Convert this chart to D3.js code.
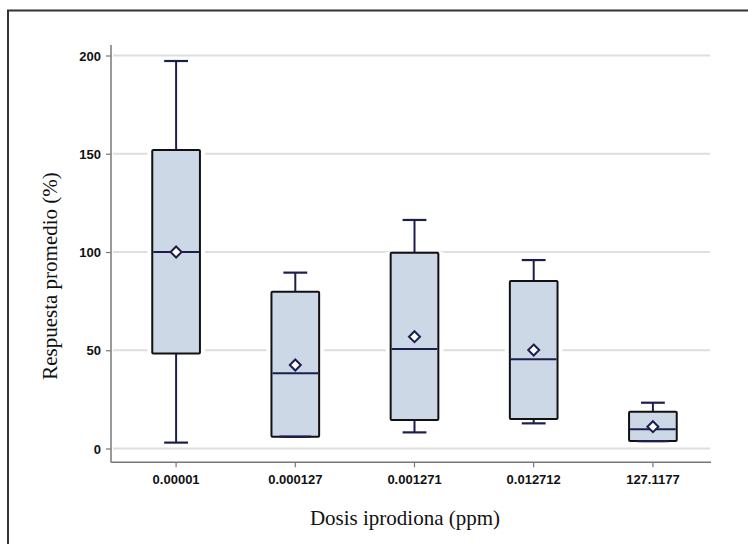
<!DOCTYPE html>
<html>
<head>
<meta charset="utf-8">
<script src="https://cdn.jsdelivr.net/npm/d3@7"></script>
<style>
  html, body { margin: 0; padding: 0; background: #fff; }
  svg { display: block; }
</style>
</head>
<body>
<svg id="chart" width="748" height="544"></svg>
<script>
const categories = ["0.00001", "0.000127", "0.001271", "0.012712", "127.1177"];
const whiskerLow  = [3.0, 6.0, 8.2, 12.8, 3.8];
const q1          = [48.4, 6.0, 14.5, 15.0, 3.8];
const median      = [100.0, 38.3, 50.6, 45.4, 9.8];
const mean        = [100.0, 42.5, 56.9, 50.1, 11.1];
const q3          = [151.9, 79.8, 99.6, 85.2, 18.7];
const whiskerHigh = [197.2, 89.5, 116.3, 95.9, 23.3];
const yTicks = [0, 50, 100, 150, 200];
const xTitle = "Dosis iprodiona (ppm)";
const yTitle = "Respuesta promedio (%)";

const data = categories.map((c, i) => ({
  cat: c, lo: whiskerLow[i], q1: q1[i], med: median[i], mean: mean[i], q3: q3[i], hi: whiskerHigh[i]
}));

const svg = d3.select("#chart");
const navy = "#1c1f4e";
const boxFill = "#cdd8e7";

// outer frame (extends beyond the picture on the right/bottom)
svg.append("rect").attr("x", 8).attr("y", 10.5).attr("width", 800).attr("height", 600)
  .attr("fill", "none").attr("stroke", "#333").attr("stroke-width", 2);

const x = d3.scaleBand().domain(categories).range([116.5, 712.5]).paddingInner(0.6).paddingOuter(0.3);
const y = d3.scaleLinear().domain([0, 200]).range([448.5, 55.5]);
const cx = d => x(d) + x.bandwidth() / 2;

const plotLeft = 111, plotRight = 711;
const xAxisY = y(-7.0);

// gridlines
svg.append("g").selectAll("line").data(yTicks).join("line")
  .attr("x1", plotLeft + 2).attr("x2", 710)
  .attr("y1", d => y(d)).attr("y2", d => y(d))
  .attr("stroke", "#dedede").attr("stroke-width", 2);

// y axis
const yAxis = svg.append("g").attr("transform", `translate(${plotLeft},0)`)
  .call(d3.axisLeft(y).tickValues(yTicks).tickSize(5).tickPadding(5).tickFormat(d3.format("d")));
yAxis.select(".domain").remove();
yAxis.selectAll(".tick line").attr("stroke", "#777").attr("stroke-width", 1.2);
yAxis.selectAll(".tick text").attr("font-family", "'Liberation Sans', Arial, sans-serif")
  .attr("font-weight", "bold").attr("font-size", "13px").attr("fill", "#111").attr("dy", "0.36em");
svg.append("line").attr("x1", plotLeft).attr("x2", plotLeft).attr("y1", y(205.3)).attr("y2", xAxisY)
  .attr("stroke", "#777").attr("stroke-width", 1.5);

// x axis
const xAxis = svg.append("g").attr("transform", `translate(0,${xAxisY})`)
  .call(d3.axisBottom(x).tickSize(5).tickPadding(8));
xAxis.select(".domain").remove();
xAxis.selectAll(".tick line").attr("stroke", "#777").attr("stroke-width", 1.2);
xAxis.selectAll(".tick text").attr("font-family", "'Liberation Sans', Arial, sans-serif")
  .attr("font-weight", "bold").attr("font-size", "13px").attr("fill", "#111");
svg.append("line").attr("x1", plotLeft).attr("x2", plotRight).attr("y1", xAxisY).attr("y2", xAxisY)
  .attr("stroke", "#777").attr("stroke-width", 1.5);

// boxes
const g = svg.append("g").selectAll("g").data(data).join("g");
const bw = x.bandwidth();
const capW = bw / 2;

// white halo behind box
g.append("rect")
  .attr("x", d => x(d.cat) - 5).attr("width", bw + 10)
  .attr("y", d => y(d.q3) - 1).attr("height", d => y(d.q1) - y(d.q3) + 2)
  .attr("fill", "#fff");

// whiskers
g.append("line").attr("x1", d => cx(d.cat)).attr("x2", d => cx(d.cat))
  .attr("y1", d => y(d.q3)).attr("y2", d => y(d.hi)).attr("stroke", navy).attr("stroke-width", 2);
g.append("line").attr("x1", d => cx(d.cat)).attr("x2", d => cx(d.cat))
  .attr("y1", d => y(d.q1)).attr("y2", d => y(d.lo)).attr("stroke", navy).attr("stroke-width", 2);
g.append("line").attr("x1", d => cx(d.cat) - capW / 2).attr("x2", d => cx(d.cat) + capW / 2)
  .attr("y1", d => y(d.hi)).attr("y2", d => y(d.hi)).attr("stroke", navy).attr("stroke-width", 2.2);
g.append("line").attr("x1", d => cx(d.cat) - capW / 2).attr("x2", d => cx(d.cat) + capW / 2)
  .attr("y1", d => y(d.lo)).attr("y2", d => y(d.lo)).attr("stroke", navy).attr("stroke-width", 2.2);

// box
g.append("rect")
  .attr("x", d => x(d.cat)).attr("width", bw)
  .attr("y", d => y(d.q3)).attr("height", d => y(d.q1) - y(d.q3))
  .attr("fill", boxFill).attr("stroke", "#111").attr("stroke-width", 2).attr("rx", 1);

// lower cap drawn again if coinciding with box bottom
g.filter(d => d.lo === d.q1).append("line")
  .attr("x1", d => cx(d.cat) - capW / 2 - 4).attr("x2", d => cx(d.cat) + capW / 2 + 4)
  .attr("y1", d => y(d.lo)).attr("y2", d => y(d.lo)).attr("stroke", navy).attr("stroke-width", 2.2);

// median
g.append("line").attr("x1", d => x(d.cat) + 1).attr("x2", d => x(d.cat) + bw - 1)
  .attr("y1", d => y(d.med)).attr("y2", d => y(d.med)).attr("stroke", navy).attr("stroke-width", 2);

// mean diamond
const dsz = 5.5;
g.append("path")
  .attr("d", d => {
    const px = cx(d.cat), py = y(d.mean);
    return `M${px},${py - dsz}L${px + dsz},${py}L${px},${py + dsz}L${px - dsz},${py}Z`;
  })
  .attr("fill", "#fff").attr("stroke", navy).attr("stroke-width", 2);

// axis titles
svg.append("text").attr("x", 405).attr("y", 525).attr("text-anchor", "middle")
  .attr("font-family", "'Liberation Serif', 'Times New Roman', serif").attr("font-size", "21px")
  .attr("fill", "#111").text(xTitle);
svg.append("text").attr("transform", "translate(57,276) rotate(-90)").attr("text-anchor", "middle")
  .attr("font-family", "'Liberation Serif', 'Times New Roman', serif").attr("font-size", "21px")
  .attr("fill", "#111").text(yTitle);
</script>
</body>
</html>
